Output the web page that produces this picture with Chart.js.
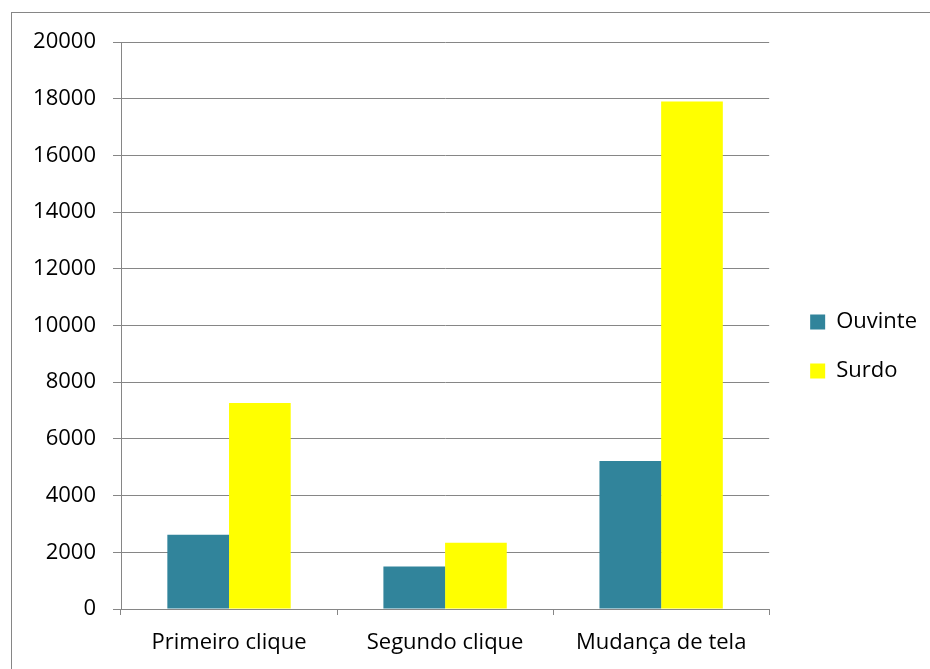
<!DOCTYPE html>
<html>
<head>
<meta charset="utf-8">
<script src="https://cdn.jsdelivr.net/npm/chart.js@4/dist/chart.umd.min.js"></script>
<style>
    html, body { margin: 0; padding: 0; background: #fff; }
    #wrap { width: 930px; height: 669px; }
</style>
</head>
<body>
<div id="wrap"><canvas id="tempoChart"></canvas></div>
<script>
// Tempo por etapa: ouvintes x surdos
const categorias = ['Primeiro clique', 'Segundo clique', 'Mudança de tela'];
const ouvinte = [2620, 1500, 5220];
const surdo = [7270, 2340, 17900];

const GRID = '#868686';

// Moldura cinza em volta do gráfico
const moldura = {
    id: 'moldura',
    beforeDraw(chart) {
        const ctx = chart.ctx;
        ctx.save();
        ctx.fillStyle = '#ffffff';
        ctx.fillRect(0, 0, chart.width, chart.height);
        ctx.strokeStyle = GRID;
        ctx.lineWidth = 1;
        ctx.strokeRect(11.5, 12.5, chart.width, chart.height);
        ctx.restore();
    }
};

Chart.defaults.font.family = '"Open Sans", sans-serif';
Chart.defaults.font.size = 22;
Chart.defaults.color = '#000';

const ctx = document.getElementById('tempoChart').getContext('2d');
new Chart(ctx, {
    type: 'bar',
    data: {
        labels: categorias,
        datasets: [
            { label: 'Ouvinte', data: ouvinte, backgroundColor: '#31849b' },
            { label: 'Surdo', data: surdo, backgroundColor: '#ffff00' }
        ]
    },
    options: {
        responsive: true,
        maintainAspectRatio: false,
        animation: false,
        datasets: {
            bar: { categoryPercentage: 0.571, barPercentage: 1.0 }
        },
        layout: {
            padding: { left: 0, top: 42, right: 3, bottom: 0 }
        },
        plugins: {
            tooltip: { enabled: false },
            legend: {
                position: 'right',
                fullSize: false,
                // título vazio só para descer os itens da legenda
                title: { display: true, text: '', padding: { top: 0, bottom: 15.6 } },
                labels: {
                    boxWidth: 15,
                    boxHeight: 15,
                    padding: 27,
                    font: { size: 22 }
                }
            }
        },
        scales: {
            x: {
                grid: {
                    offset: true,
                    drawOnChartArea: false,
                    drawTicks: true,
                    tickLength: 6,
                    color: GRID
                },
                border: { color: GRID },
                ticks: { padding: 15 },
                afterFit(scale) { scale.height = 60; }
            },
            y: {
                min: 0,
                max: 20000,
                grid: { color: GRID, tickLength: 8 },
                border: { color: GRID },
                ticks: {
                    stepSize: 2000,
                    padding: 17,
                    callback: (v) => String(v)
                },
                afterFit(scale) { scale.width = 121; }
            },
            // espaço vazio entre a área do gráfico e a legenda
            folga: {
                type: 'linear',
                position: 'right',
                display: true,
                grid: { display: false, drawTicks: false },
                border: { display: false },
                ticks: { display: false },
                afterFit(scale) { scale.width = 14; }
            }
        }
    },
    plugins: [moldura]
});
</script>
</body>
</html>
